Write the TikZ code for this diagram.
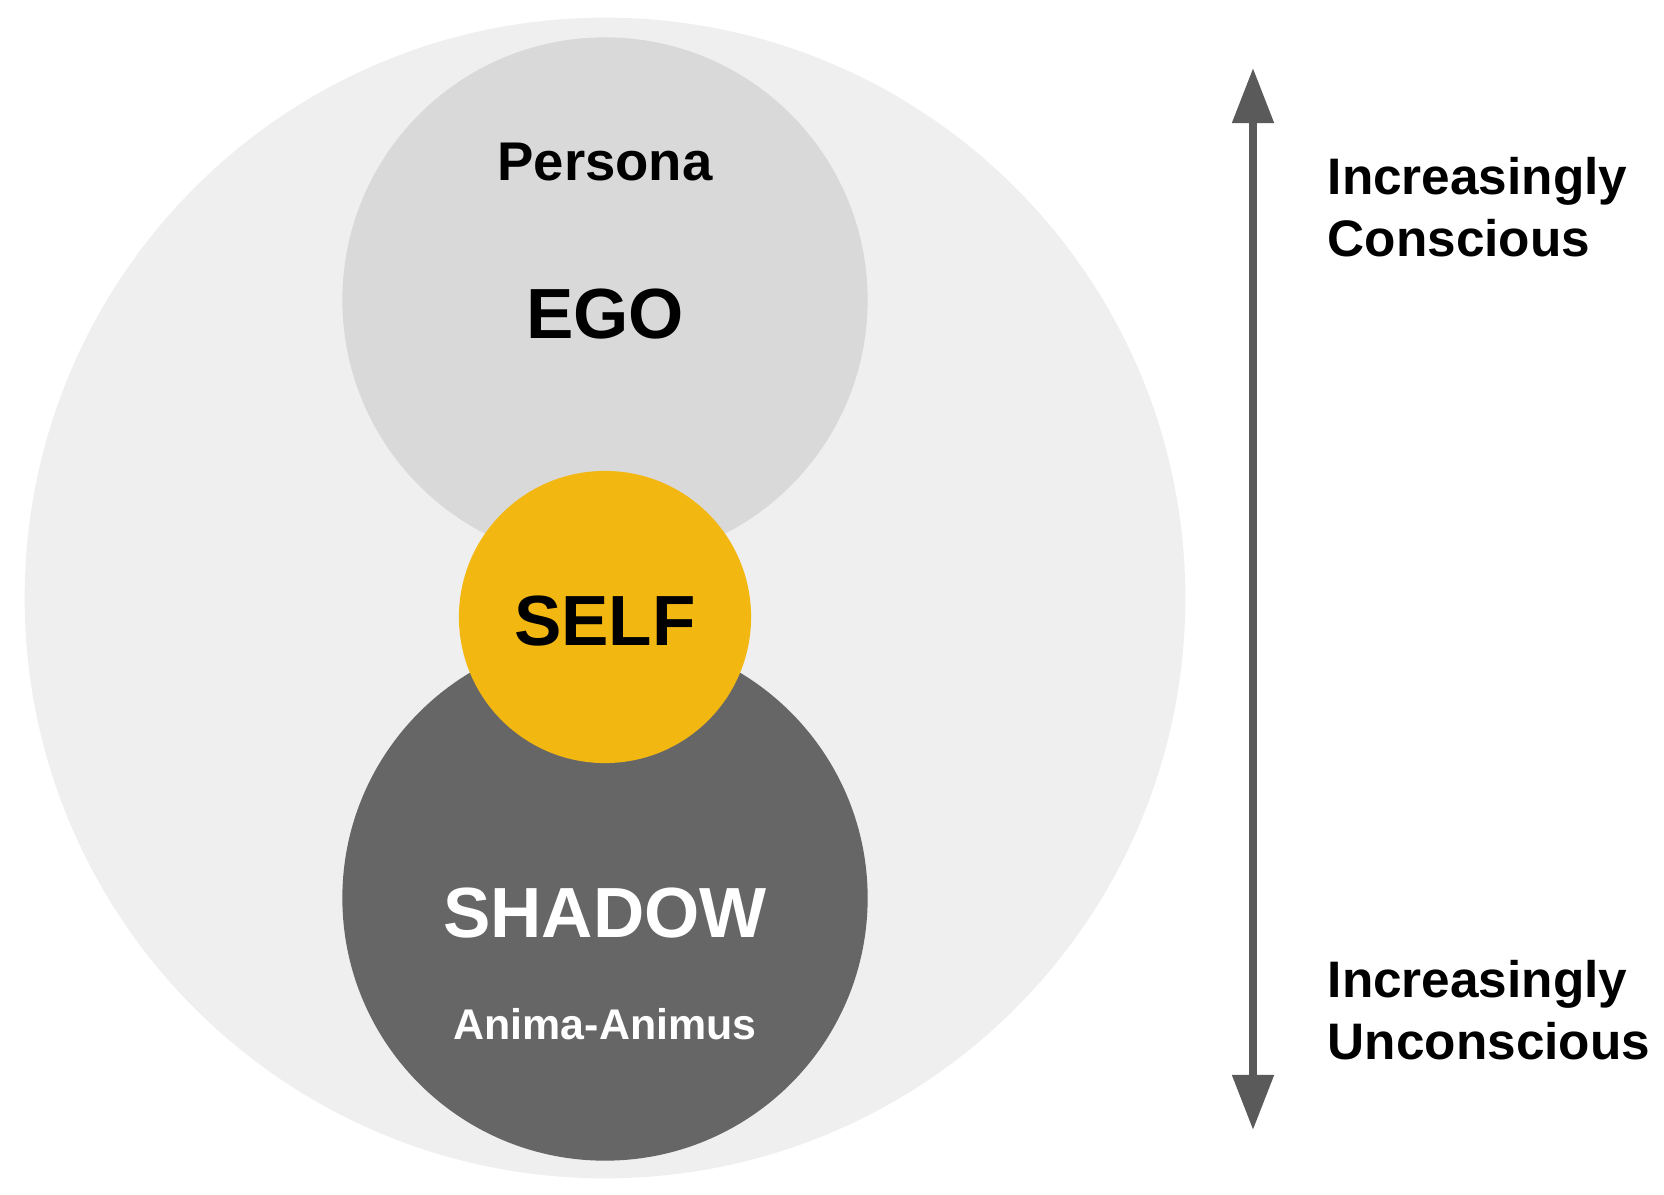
\documentclass[tikz,border=0pt]{standalone}
\usepackage{fontspec}
\setmainfont{Liberation Sans}
\usetikzlibrary{arrows.meta}

\definecolor{psyche}{HTML}{EFEFEF}
\definecolor{egogray}{HTML}{D9D9D9}
\definecolor{shadowgray}{HTML}{666666}
\definecolor{selfyellow}{HTML}{F2B711}
\definecolor{arrowgray}{HTML}{5A5A5A}

\begin{document}
\begin{tikzpicture}[x=0.01cm, y=-0.01cm,
    disc/.style={circle, inner sep=0pt, minimum size=#1},
    title/.style={anchor=base, font=\bfseries\fontsize{20.2}{24}\selectfont},
    sub/.style={anchor=base, font=\bfseries\fontsize{#1}{#1}\selectfont},
    side/.style={anchor=north west, inner sep=0pt, align=left, font=\bfseries\fontsize{14.6}{17.4}\selectfont}]
    \useasboundingbox (0,0) rectangle (1664,1194);
    \node[disc=11.6cm, fill=psyche] (psyche) at (605,598) {};
    \node[disc=5.25cm, fill=egogray] (ego) at (605,300) {};
    \node[disc=5.25cm, fill=shadowgray] (shadow) at (605,898) {};
    \node[disc=2.92cm, fill=selfyellow] (self) at (605,617) {};
    \node[sub=15.5] (persona) at (605,180) {Persona};
    \node[title] (egotext) at (605,338) {EGO};
    \node[title] (selftext) at (605,645) {SELF};
    \node[title, text=white] (shadowtext) at (605,937) {SHADOW};
    \node[sub=12.2, text=white] (anima) at (605,1039) {Anima-Animus};
    \coordinate (up) at (1253,68);
    \coordinate (down) at (1253,1130);
    \draw[arrowgray, line width=0.08cm, {Triangle[width=0.40cm,length=0.55cm]}-{Triangle[width=0.40cm,length=0.55cm]}] (up) -- (down);
    \node[side] (conscious) at (1327,157) {Increasingly\\Conscious};
    \node[side] (unconscious) at (1327,960) {Increasingly\\Unconscious};
\end{tikzpicture}
\end{document}
